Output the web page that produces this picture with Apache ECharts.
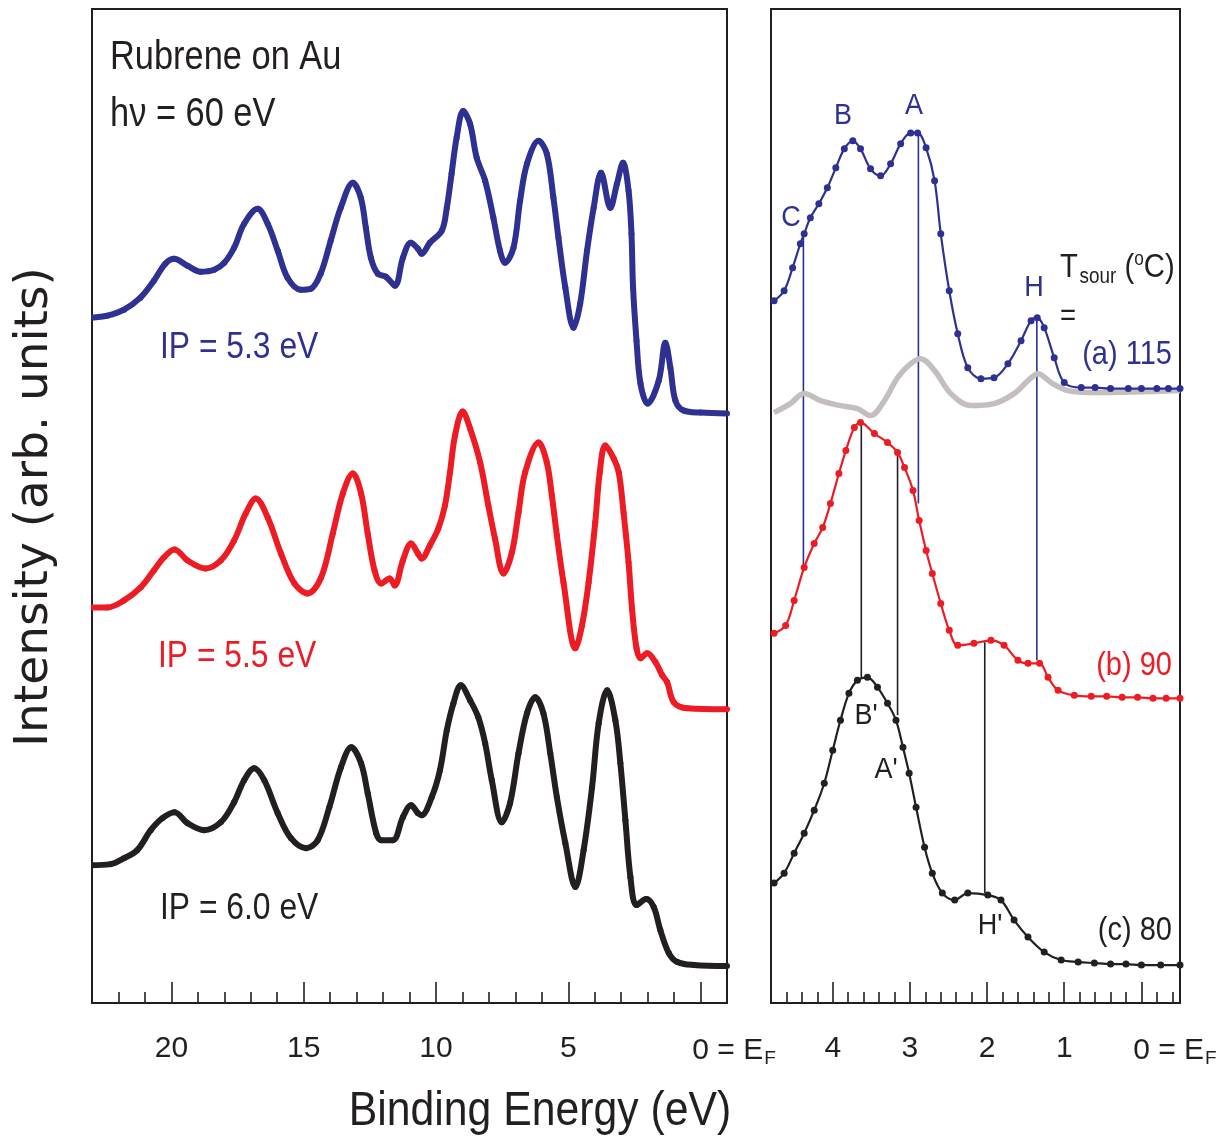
<!DOCTYPE html>
<html><head><meta charset="utf-8">
<script src="https://cdn.jsdelivr.net/npm/echarts@6/dist/echarts.min.js"></script>
<style>html,body{margin:0;padding:0;background:#fff}#c{width:1219px;height:1140px}</style>
</head><body><div id="c"></div>
<script>
// ---- data: binding energy (eV), intensity (arb. units, offset stacked) ----
const blueLeft = [[23.03,686],[22.42,688],[21.79,694],[21.17,706],[20.66,723],[20.23,740],[19.90,745],[19.39,738],[18.90,732],[18.38,734],[18.00,741],[17.63,756],[17.25,780],[16.74,795],[16.36,780],[15.98,753],[15.61,726],[15.11,714],[14.73,715],[14.36,730],[13.98,763],[13.60,796],[13.14,821],[12.84,806],[12.65,776],[12.46,746],[12.20,730],[11.89,727],[11.55,718],[11.25,746],[10.95,761],[10.68,755],[10.54,750],[10.23,761],[9.78,773],[9.59,796],[9.41,830],[9.22,866],[8.97,893],[8.71,880],[8.46,846],[8.14,823],[7.83,786],[7.58,753],[7.39,741],[7.07,756],[6.82,803],[6.56,840],[6.12,863],[5.81,850],[5.56,806],[5.37,766],[5.11,716],[4.80,676],[4.55,700],[4.29,753],[4.04,796],[3.76,831],[3.41,796],[3.16,820],[2.93,841],[2.72,813],[2.61,770],[2.55,716],[2.42,663],[2.27,620],[2.00,600],[1.58,623],[1.33,661],[1.14,636],[0.95,603],[0.63,593],[0.00,591],[-1.00,590]];
const redLeft = [[23.03,396],[22.42,396],[21.79,403],[21.16,416],[20.66,433],[20.28,446],[19.88,454],[19.39,443],[18.70,435],[18.13,443],[17.63,463],[17.19,490],[16.81,505],[16.36,486],[15.86,450],[15.35,420],[14.85,410],[14.34,426],[13.90,470],[13.52,510],[13.14,530],[12.83,510],[12.58,470],[12.32,433],[12.07,420],[11.75,425],[11.56,418],[11.25,443],[10.94,460],[10.68,450],[10.54,445],[10.23,458],[9.91,475],[9.66,498],[9.47,531],[9.28,568],[8.99,592],[8.71,575],[8.33,541],[8.02,498],[7.77,465],[7.45,430],[7.13,451],[6.88,491],[6.63,531],[6.12,561],[5.81,541],[5.62,508],[5.43,468],[5.18,421],[4.73,355],[4.48,378],[4.23,421],[3.98,481],[3.81,531],[3.60,558],[3.28,545],[3.09,531],[2.91,491],[2.72,441],[2.59,395],[2.42,355],[2.27,345],[2.02,350],[1.70,341],[1.45,328],[1.26,321],[1.01,301],[0.50,295],[-1.00,294]];
const blackLeft = [[23.03,138],[22.30,139],[21.79,145],[21.29,153],[20.78,173],[20.34,185],[19.88,191],[19.39,180],[18.76,173],[18.13,181],[17.63,201],[17.25,223],[16.87,235],[16.49,223],[15.98,190],[15.48,165],[14.91,155],[14.47,163],[14.03,196],[13.59,236],[13.20,256],[12.83,240],[12.58,210],[12.26,170],[12.07,163],[11.63,163],[11.25,186],[10.94,198],[10.68,190],[10.54,188],[10.16,206],[9.85,233],[9.59,273],[9.34,300],[9.06,318],[8.71,303],[8.40,286],[8.14,260],[7.89,223],[7.51,181],[7.20,200],[6.88,250],[6.56,290],[6.25,306],[5.94,290],[5.68,250],[5.43,206],[5.11,160],[4.73,116],[4.42,153],[4.10,216],[3.85,280],[3.53,313],[3.22,283],[3.03,240],[2.84,183],[2.65,126],[2.42,98],[2.05,104],[1.77,96],[1.52,73],[1.20,50],[0.88,41],[0.25,38],[-1.00,37]];

const blueRight = [[4.76,703],[4.63,713],[4.52,736],[4.42,760],[4.37,770],[4.29,786],[4.18,800],[4.07,816],[3.96,836],[3.85,855],[3.74,863],[3.64,855],[3.51,835],[3.38,828],[3.25,840],[3.12,860],[2.99,871],[2.90,871],[2.79,856],[2.68,823],[2.60,770],[2.49,713],[2.38,670],[2.25,636],[2.08,625],[1.91,626],[1.73,640],[1.56,663],[1.43,683],[1.35,686],[1.26,676],[1.13,646],[1.00,621],[0.78,616],[0.60,616],[0.40,615],[0.17,615],[0.00,615],[-0.20,615],[-0.35,615],[-0.50,615]];
const grayRight = [[4.76,591],[4.55,600],[4.37,610],[4.16,603],[3.90,598],[3.68,595],[3.51,588],[3.33,603],[3.16,626],[2.99,640],[2.86,645],[2.68,633],[2.47,610],[2.21,598],[1.91,600],[1.65,610],[1.47,623],[1.34,630],[1.17,621],[0.95,613],[0.61,611],[-0.50,613]];
const redRight = [[4.76,370],[4.61,378],[4.50,403],[4.37,436],[4.24,460],[4.13,476],[4.03,500],[3.92,530],[3.83,553],[3.72,576],[3.64,581],[3.46,570],[3.29,561],[3.16,551],[3.07,536],[2.96,513],[2.88,483],[2.79,453],[2.71,430],[2.60,400],[2.49,373],[2.38,358],[2.17,360],[1.95,363],[1.78,358],[1.60,343],[1.47,340],[1.32,340],[1.21,326],[1.08,313],[0.87,308],[0.65,307],[0.45,307],[0.25,306],[0.05,306],[-0.15,305],[-0.32,305],[-0.50,305]];
const blackRight = [[4.76,120],[4.63,130],[4.50,150],[4.37,170],[4.24,193],[4.11,220],[4.00,253],[3.90,283],[3.79,310],[3.68,323],[3.55,326],[3.42,316],[3.29,300],[3.18,283],[3.09,256],[3.01,230],[2.92,196],[2.81,156],[2.71,130],[2.58,110],[2.42,103],[2.25,110],[1.99,108],[1.82,103],[1.65,83],[1.47,66],[1.26,51],[1.04,43],[0.82,41],[0.61,40],[0.40,39],[0.20,39],[0.00,38],[-0.25,38],[-0.50,38]];

// feature marker lines: [energy, top, bottom]
const blueMarkers = [[4.38,770,438],[2.89,872,500],[1.355,686,343]];
const blackMarkers = [[3.63,581,326],[3.16,551,288],[2.03,361,110]];

// ticks
const leftMajor = [0,5,10,15,20];
const leftMinor = [1,2,3,4,6,7,8,9,11,12,13,14,16,17,18,19,21,22];
const rightMajor = [0,1,2,3,4];
const rightMinor = [-0.4,-0.2,0.2,0.4,0.6,0.8,1.2,1.4,1.6,1.8,2.2,2.4,2.6,2.8,3.2,3.4,3.6,3.8,4.2,4.4,4.6];

const NAVY = '#2e3192', RED = '#ed1c24', BLK = '#231f20', GRAY = '#c4bebe';
const FF = "'Liberation Sans',Arial,sans-serif";
const SQ = 0.86; // horizontal squeeze to mimic the condensed face

const chart = echarts.init(document.getElementById('c'), null, {renderer:'canvas'});

function labelFmt(v){ return v === 0 ? '{pad|}0 = E{sub|F}' : String(v); }
const labelRich = {
  pad:{width:67, fontSize:30, fontFamily:FF},
  sub:{fontSize:19, fontFamily:FF, color:BLK, padding:[15,0,0,1]}
};
function majorAxis(grid, min, max, vals){
  return {gridIndex:grid, type:'value', inverse:true, min:min, max:max, position:'bottom',
    axisLine:{show:true, onZero:false, lineStyle:{color:BLK, width:2}},
    axisTick:{show:true, inside:true, length:21, customValues:vals, lineStyle:{color:BLK, width:1.6}},
    axisLabel:{show:true, customValues:vals, margin:31, fontSize:30, fontFamily:FF, color:BLK, formatter:labelFmt, rich:labelRich},
    splitLine:{show:false}};
}
function minorAxis(grid, min, max, vals){
  return {gridIndex:grid, type:'value', inverse:true, min:min, max:max, position:'bottom',
    axisLine:{show:false},
    axisTick:{show:true, inside:true, length:11, customValues:vals, lineStyle:{color:BLK, width:1.6}},
    axisLabel:{show:false}, splitLine:{show:false}};
}
function yAx(grid){ return {gridIndex:grid, type:'value', min:0, max:995, show:false}; }

function curve(data, color, xi, yi, lw, sym){
  return {type:'line', data:data, xAxisIndex:xi, yAxisIndex:yi, smooth:0.35, silent:true,
    showSymbol:sym>0, symbol:'circle', symbolSize:sym, itemStyle:{color:color},
    lineStyle:{color:color, width:lw}, z:3};
}
const series = [
  curve(blueLeft, NAVY, 0, 0, 6, 6),
  curve(redLeft, RED, 0, 0, 6, 6),
  curve(blackLeft, BLK, 0, 0, 6, 6),
  curve(grayRight, GRAY, 2, 1, 5.5, 0),
  curve(blueRight, NAVY, 2, 1, 2.2, 7),
  curve(redRight, RED, 2, 1, 2.2, 7),
  curve(blackRight, BLK, 2, 1, 2.2, 7)
];
blueMarkers.forEach(m => series.push({type:'line', xAxisIndex:2, yAxisIndex:1, silent:true, showSymbol:false,
  data:[[m[0],m[1]],[m[0],m[2]]], lineStyle:{color:NAVY, width:1.6}, z:2}));
blackMarkers.forEach(m => series.push({type:'line', xAxisIndex:2, yAxisIndex:1, silent:true, showSymbol:false,
  data:[[m[0],m[1]],[m[0],m[2]]], lineStyle:{color:BLK, width:1.6}, z:2}));

function txt(t, x, y, size, color, align, sq){
  return {type:'text', silent:true, x:x, y:y, scaleX:(sq===undefined?SQ:sq),
    style:{text:t, x:0, y:0, font:size+'px '+FF, fill:color, textAlign:align||'left', textVerticalAlign:'middle'}};
}

chart.setOption({
  animation:false,
  grid:[
    {left:92, top:9, width:635, height:994, show:true, borderColor:BLK, borderWidth:2, backgroundColor:'transparent', outerBoundsMode:'none', containLabel:false},
    {left:771, top:9, width:409, height:994, show:true, borderColor:BLK, borderWidth:2, backgroundColor:'transparent', outerBoundsMode:'none', containLabel:false}
  ],
  xAxis:[majorAxis(0,-1,23,leftMajor), minorAxis(0,-1,23,leftMinor),
         majorAxis(1,-0.5,4.8,rightMajor), minorAxis(1,-0.5,4.8,rightMinor)],
  yAxis:[yAx(0), yAx(1)],
  series:series,
  graphic:[
    txt('Rubrene on Au', 110, 58, 40, BLK),
    txt('hν = 60 eV', 110, 115, 40, BLK),
    txt('IP = 5.3 eV', 160, 348, 37, NAVY),
    txt('IP = 5.5 eV', 158, 657, 37, RED),
    txt('IP = 6.0 eV', 160, 909, 37, BLK),
    txt('C', 791, 218, 30, NAVY, 'center', 0.9),
    txt('B', 843, 116, 30, NAVY, 'center', 0.9),
    txt('A', 914, 106, 30, NAVY, 'center', 0.9),
    txt('H', 1034, 288, 30, NAVY, 'center', 0.9),
    {type:'text', silent:true, x:1060, y:268, scaleX:0.86, style:{text:'{t|T}{s|sour}{t| (}{o|o}{t|C)}', x:0, y:0, textAlign:'left', textVerticalAlign:'middle',
      rich:{t:{fontSize:34, fontFamily:FF, fill:BLK}, s:{fontSize:22, fontFamily:FF, fill:BLK, padding:[18,0,0,2]}, o:{fontSize:20, fontFamily:FF, fill:BLK, padding:[0,0,18,0]}}}},
    txt('=', 1068, 316, 32, BLK, 'center'),
    txt('(a) 115', 1172, 355, 33, NAVY, 'right', 0.88),
    txt('(b) 90', 1172, 666, 33, RED, 'right', 0.88),
    txt('(c) 80', 1172, 931, 33, BLK, 'right', 0.88),
    txt("B'", 866, 716, 30, BLK, 'center', 0.9),
    txt("A'", 886, 770, 30, BLK, 'center', 0.9),
    txt("H'", 990, 926, 30, BLK, 'center', 0.9),
    txt('Binding Energy (eV)', 540, 1112, 48, BLK, 'center', 0.89),
    {type:'text', silent:true, x:35, y:507, rotation:Math.PI/2,
      style:{text:'Intensity (arb. units)', x:0, y:0, font:"47px 'DejaVu Sans',sans-serif", fill:BLK, textAlign:'center', textVerticalAlign:'middle'}}
  ]
});
</script></body></html>
